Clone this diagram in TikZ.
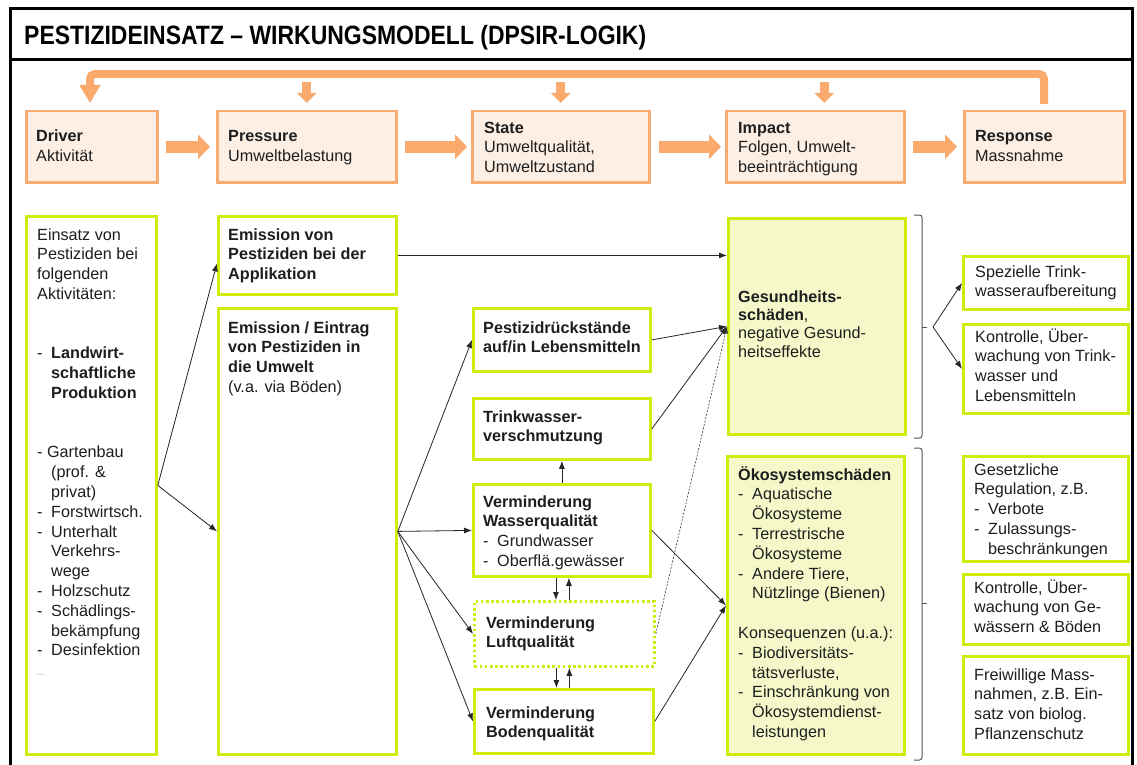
\documentclass[tikz,border=0pt]{standalone}
\usepackage{fontspec}
\usepackage{graphicx}
\setmainfont{Liberation Sans}
\usetikzlibrary{arrows.meta,calc}
\definecolor{orarr}{RGB}{250,170,108}
\definecolor{orbord}{RGB}{247,172,115}
\definecolor{orfill}{RGB}{253,239,228}
\definecolor{gbord}{RGB}{208,236,12}
\definecolor{gfill}{RGB}{245,249,202}
\definecolor{txtc}{RGB}{30,30,30}
\definecolor{bracec}{RGB}{85,85,85}
\newcommand{\myitm}[1]{\makebox[14pt][l]{-}#1}
\newcommand{\myind}{\hspace*{14pt}}
\newcommand{\tbox}[2]{\parbox[t]{#1}{\raggedright #2}}
\begin{document}
\begin{tikzpicture}[x=1pt,y=-1pt,
  obox/.style={draw=orbord, fill=orfill, line width=2.5pt, anchor=north west, inner sep=0pt},
  gbox/.style={draw=gbord, fill=white, line width=2.8pt, anchor=north west, inner sep=0pt},
  ybox/.style={draw=gbord, fill=gfill, line width=2.8pt, anchor=north west, inner sep=0pt},
  dbox/.style={draw=gbord, fill=white, line width=2.8pt, dash pattern=on 2.6pt off 2.6pt, anchor=north west, inner sep=0pt},
  txt/.style={inner sep=0pt, anchor=base west, text=txtc, font=\fontsize{16.2}{19.8}\selectfont},
  arr/.style={-{Latex[length=8pt,width=6pt]}, line width=0.8pt, draw=black!85},
  darr/.style={-{Latex[length=7pt,width=5pt]}, line width=0.6pt, draw=black!80, dash pattern=on 2pt off 1.5pt},
  oarr/.style={draw=orarr, line width=12pt, -{Triangle[length=12pt,width=24pt]}},
  sarr/.style={draw=orarr, line width=9pt, -{Triangle[length=10pt,width=19pt]}},
  loopline/.style={draw=orarr, line width=8pt, rounded corners=5pt, -{Triangle[length=18pt,width=20pt]}},
  bracket/.style={draw=bracec, line width=1pt, rounded corners=2.5pt}
]
\useasboundingbox (0,0) rectangle (1137,765);
\fill[white] (0,0) rectangle (1137,765);

% frame and title
\draw[line width=3pt] (10,790) -- (10,9) -- (1132,9) -- (1132,790);
\draw[line width=3pt] (10,60) -- (1132,60);
\node[anchor=base west, inner sep=0pt, font=\fontsize{26.5}{30}\selectfont\bfseries] (title) at (24,44.5)
  {\resizebox{622pt}{\height}{PESTIZIDEINSATZ – WIRKUNGSMODELL (DPSIR-LOGIK)}};

% DPSIR top row
\node[obox, minimum width=131pt, minimum height=71pt] (drv) at (25,110) {};
\node[obox, minimum width=179pt, minimum height=71pt] (prs) at (216,110) {};
\node[obox, minimum width=177pt, minimum height=71pt] (sta) at (471,110) {};
\node[obox, minimum width=178pt, minimum height=71pt] (imp) at (725,110) {};
\node[obox, minimum width=160pt, minimum height=71pt] (rsp) at (963,110) {};

\node[txt] (tdrv) at (36,142) {\tbox{115pt}{\textbf{Driver}\\Aktivität}};
\node[txt] (tprs) at (228,142) {\tbox{160pt}{\textbf{Pressure}\\Umweltbelastung}};
\node[txt] (tsta) at (484,133) {\tbox{160pt}{\textbf{State}\\Umweltqualität,\\Umweltzustand}};
\node[txt] (timp) at (738,133) {\tbox{160pt}{\textbf{Impact}\\Folgen, Umwelt-\\beeinträchtigung}};
\node[txt] (trsp) at (975,142) {\tbox{140pt}{\textbf{Response}\\Massnahme}};

\draw[oarr, shorten <=7pt, shorten >=6pt] (drv.east) -- (prs.west);
\draw[oarr, shorten <=7pt, shorten >=4pt] (prs.east) -- (sta.west);
\draw[oarr, shorten <=8pt, shorten >=4pt] (sta.east) -- (imp.west);
\draw[oarr, shorten <=7pt, shorten >=6pt] (imp.east) -- (rsp.west);

\coordinate (loopR) at (1044,104);
\coordinate (loopL) at (90,103);
\coordinate (loopTop) at (0,74);
\draw[loopline] (loopR) -- (loopR |- loopTop) -- (loopL |- loopTop) -- (loopL);
\draw[sarr] ([yshift=28pt]prs.north) -- ([yshift=7pt]prs.north);
\draw[sarr] ([yshift=28pt]sta.north) -- ([yshift=7pt]sta.north);
\draw[sarr] ([xshift=9pt,yshift=28pt]imp.north) -- ([xshift=9pt,yshift=7pt]imp.north);

% lower boxes
\node[gbox, minimum width=130pt, minimum height=538pt] (einsatz) at (25,215) {};
\node[gbox, minimum width=178pt, minimum height=78pt] (emA) at (217,215) {};
\node[gbox, minimum width=178pt, minimum height=446pt] (emB) at (217,307) {};
\node[gbox, minimum width=177pt, minimum height=63pt] (pest) at (472,307) {};
\node[gbox, minimum width=177pt, minimum height=61pt] (trink) at (472,397) {};
\node[gbox, minimum width=177pt, minimum height=92pt] (wasser) at (472,483) {};
\node[dbox, minimum width=180pt, minimum height=65pt] (luft) at (473,600) {};
\node[gbox, minimum width=179pt, minimum height=64pt] (boden) at (473,688) {};
\node[ybox, minimum width=177pt, minimum height=216pt] (ges) at (727,217) {};
\node[ybox, minimum width=177pt, minimum height=298pt] (oeko) at (726,455) {};
\node[gbox, minimum width=165pt, minimum height=53pt] (r1) at (962,255) {};
\node[gbox, minimum width=165pt, minimum height=89pt] (r2) at (962,323) {};
\node[gbox, minimum width=165pt, minimum height=105pt] (r3) at (962,455) {};
\node[gbox, minimum width=165pt, minimum height=70pt] (r4) at (962,573) {};
\node[gbox, minimum width=165pt, minimum height=98pt] (r5) at (962,655) {};

% texts
\node[txt] (teinsatz) at (37,240) {\tbox{118pt}{Einsatz von\\Pestiziden bei\\folgenden\\Aktivitäten:\\[39.6pt]
\myitm{\textbf{Landwirt-}}\\\myind\textbf{schaftliche}\\\myind\textbf{Produktion}\\[39.6pt]
- Gartenbau\\\myind(prof. \&\\\myind privat)\\\myitm{Forstwirtsch.}\\\myitm{Unterhalt}\\\myind Verkehrs-\\\myind wege\\
\myitm{Holzschutz}\\\myitm{Schädlings-}\\\myind bekämpfung\\\myitm{Desinfektion}\\{\color{black!40}\fontsize{10}{10}\selectfont ...}}};
\node[txt] (temA) at (228,240) {\tbox{165pt}{\textbf{Emission von}\\\textbf{Pestiziden bei der}\\\textbf{Applikation}}};
\node[txt] (temB) at (228,333) {\tbox{165pt}{\textbf{Emission / Eintrag}\\\textbf{von Pestiziden in}\\\textbf{die Umwelt}\\(v.a. via Böden)}};
\node[txt] (tpest) at (483,333) {\tbox{165pt}{\textbf{Pestizidrückstände}\\\textbf{auf/in Lebensmitteln}}};
\node[txt] (ttrink) at (483,422) {\tbox{165pt}{\textbf{Trinkwasser-}\\\textbf{verschmutzung}}};
\node[txt] (twasser) at (483,507) {\tbox{165pt}{\textbf{Verminderung}\\\textbf{Wasserqualität}\\\myitm{Grundwasser}\\\myitm{Oberflä.gewässer}}};
\node[txt] (tluft) at (486,628) {\tbox{165pt}{\textbf{Verminderung}\\\textbf{Luftqualität}}};
\node[txt] (tboden) at (486,718) {\tbox{165pt}{\textbf{Verminderung}\\\textbf{Bodenqualität}}};
\node[txt, font=\fontsize{16.2}{18.4}\selectfont] (tges) at (738,302) {\tbox{165pt}{\textbf{Gesundheits-}\\\textbf{schäden},\\negative Gesund-\\heitseffekte}};
\node[txt] (toeko) at (738,480) {\tbox{165pt}{\textbf{Ökosystemschäden}\\\myitm{Aquatische}\\\myind Ökosysteme\\\myitm{Terrestrische}\\\myind Ökosysteme\\\myitm{Andere Tiere,}\\\myind Nützlinge (Bienen)\\[19.8pt]
Konsequenzen (u.a.):\\\myitm{Biodiversitäts-}\\\myind tätsverluste,\\\myitm{Einschränkung von}\\\myind Ökosystemdienst-\\\myind leistungen}};
\node[txt] (tr1) at (975,277) {\tbox{150pt}{Spezielle Trink-\\wasseraufbereitung}};
\node[txt] (tr2) at (975,342) {\tbox{150pt}{Kontrolle, Über-\\wachung von Trink-\\wasser und\\Lebensmitteln}};
\node[txt] (tr3) at (974,475) {\tbox{150pt}{Gesetzliche\\Regulation, z.B.\\\myitm{Verbote}\\\myitm{Zulassungs-}\\\myind beschränkungen}};
\node[txt] (tr4) at (974,593) {\tbox{150pt}{Kontrolle, Über-\\wachung von Ge-\\wässern \& Böden}};
\node[txt] (tr5) at (974,680) {\tbox{150pt}{Freiwillige Mass-\\nahmen, z.B. Ein-\\satz von biolog.\\Pflanzenschutz}};

% connectors
\draw[arr] (einsatz.east) -- ([yshift=-8pt]emA.west);
\draw[arr] (einsatz.east) -- (emB.west);
\draw[arr] (emA.east) -- (emA.east -| ges.west);
\draw[arr] (emB.east) -- (pest.west);
\draw[arr] (emB.east) -- (wasser.west);
\draw[arr] (emB.east) -- (luft.west);
\draw[arr] (emB.east) -- (boden.west);
\draw[arr] (pest.east) -- (ges.west);
\draw[arr] (trink.east) -- (ges.west);
\draw[darr] (luft.east) -- (ges.west);
\draw[arr] (wasser.north) -- (trink.south);
\draw[arr] ([xshift=-6pt]wasser.south) -- ([xshift=-6pt]wasser.south |- luft.north);
\draw[arr] ([xshift=7pt]wasser.south |- luft.north) -- ([xshift=7pt]wasser.south);
\draw[arr] ([xshift=-8pt]luft.south) -- ([xshift=-8pt]luft.south |- boden.north);
\draw[arr] ([xshift=5pt]luft.south |- boden.north) -- ([xshift=5pt]luft.south);
\draw[arr] (wasser.east) -- (oeko.west);
\draw[arr] (boden.east) -- (oeko.west);

% brackets
\draw[bracket] (914,215) -| (922,438) -- (914,438);
\coordinate (b1tip) at (927,327);
\draw[draw=bracec, line width=1pt] (922,327) -- (b1tip);
\draw[bracket] (914,448) -| (922,760) -- (914,760);
\coordinate (b2tip) at (927,603);
\draw[draw=bracec, line width=1pt] (922,603) -- (b2tip);
\coordinate (btip) at (933,327);
\draw[arr] (btip) -- (r1.west);
\draw[arr] (btip) -- (r2.west);
\end{tikzpicture}
\end{document}
